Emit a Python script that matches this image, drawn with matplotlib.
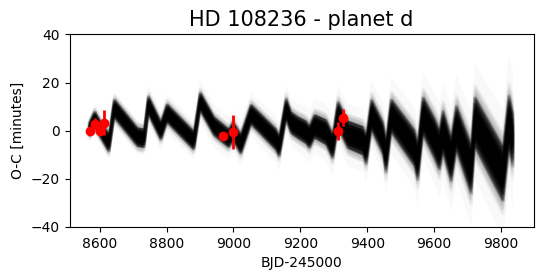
import numpy as np
import matplotlib
matplotlib.use('Agg')
import matplotlib.pyplot as plt

# model band: vertices of the median curve, core half-width, faint outer half-width
t_model = [8567, 8584, 8602, 8627, 8642, 8712, 8732, 8744, 8782, 8800,
           8881, 8899, 8941, 8985, 8998, 9021, 9051, 9126, 9136, 9156,
           9171, 9191, 9216, 9226, 9241, 9276, 9296, 9311, 9341, 9386,
           9396, 9411, 9446, 9455, 9470, 9540, 9550, 9565, 9600, 9615,
           9625, 9650, 9665, 9710, 9720, 9805, 9822, 9835]
oc_med = [0.5, 5, 0.5, -5, 9.5, -2.5, -3, 11, 0, 7.5,
          -4, 12.5, 2, -3, 0, -5.5, 7, -3.5, -6.5, 9.5,
          3.5, 1.5, -0.5, -2.5, 2, -0.5, -6.5, 7, -1.5, -4,
          -8, 7, -3, -11, 6.5, -7, -13, 6.5, -3, -8,
          0, -12, 1.5, -16, 4, -18, 4, -4]
oc_hw = [3.0, 3.5, 3.5, 4.0, 4.0, 4.0, 4.0, 4.0, 4.0, 4.0,
         4.0, 4.0, 4.0, 4.0, 4.0, 4.3, 4.3, 4.5, 4.5, 4.6,
         4.6, 4.6, 4.8, 4.8, 5.0, 5.3, 5.3, 5.6, 5.8, 6.0,
         6.3, 6.5, 6.8, 7.0, 7.0, 7.6, 8.0, 8.0, 8.5, 8.5,
         9.0, 9.5, 9.5, 10.5, 10.5, 11.5, 11.5, 11.5]
oc_out = [5, 6, 6, 7, 7, 7, 7, 8, 8, 8,
          8, 9, 9, 9, 9, 9, 9, 10, 10, 10,
          10, 10, 11, 11, 11, 12, 12, 12, 13, 13,
          14, 14, 15, 15, 16, 17, 18, 18, 19, 20,
          20, 22, 22, 24, 24, 27, 28, 28]

# observed transits
t_obs = [8572, 8587, 8601, 8614, 8968, 8998, 9313, 9328]
oc_obs = [-0.3, 2.9, -0.3, 3.2, -2.2, -0.6, -0.2, 5.4]
oc_err = [1.2, 2.2, 1.5, 5.2, 1.2, 7.0, 3.7, 3.6]

t = np.array(t_model)
med = np.array(oc_med)
hw = np.array(oc_hw)
out = np.array(oc_out)

fig, ax = plt.subplots(figsize=(5.43, 2.8), dpi=100)
fig.subplots_adjust(left=0.128, right=0.983, bottom=0.19, top=0.877)

# small time shifts give the band its width along steep segments
for dt in [-4, -2, 0, 2, 4]:
    for k in np.linspace(0.3, 1.0, 4):
        ax.fill_between(t + dt, med - k * hw, med + k * hw, color='k', alpha=0.22, lw=0)
    for k in np.linspace(1.1, 1.5, 3):
        ax.fill_between(t + dt, med - k * hw, med + k * hw, color='k', alpha=0.025, lw=0)
ax.fill_between(t, med - out, med + out, color='k', alpha=0.025, lw=0)

ax.errorbar(t_obs, oc_obs, yerr=oc_err, fmt='o', color='red', elinewidth=2, capsize=0, zorder=5)

ax.set_ylim(-40, 40)
ax.set_xlim(8510, 9898)
ax.set_xticks([8600, 8800, 9000, 9200, 9400, 9600, 9800])
ax.set_yticks([-40, -20, 0, 20, 40])
ax.set_xlabel('BJD-245000')
ax.set_ylabel('O-C [minutes]')
ax.set_title('HD 108236 - planet d', fontsize=15)

fig.savefig('out.png', dpi=100)
